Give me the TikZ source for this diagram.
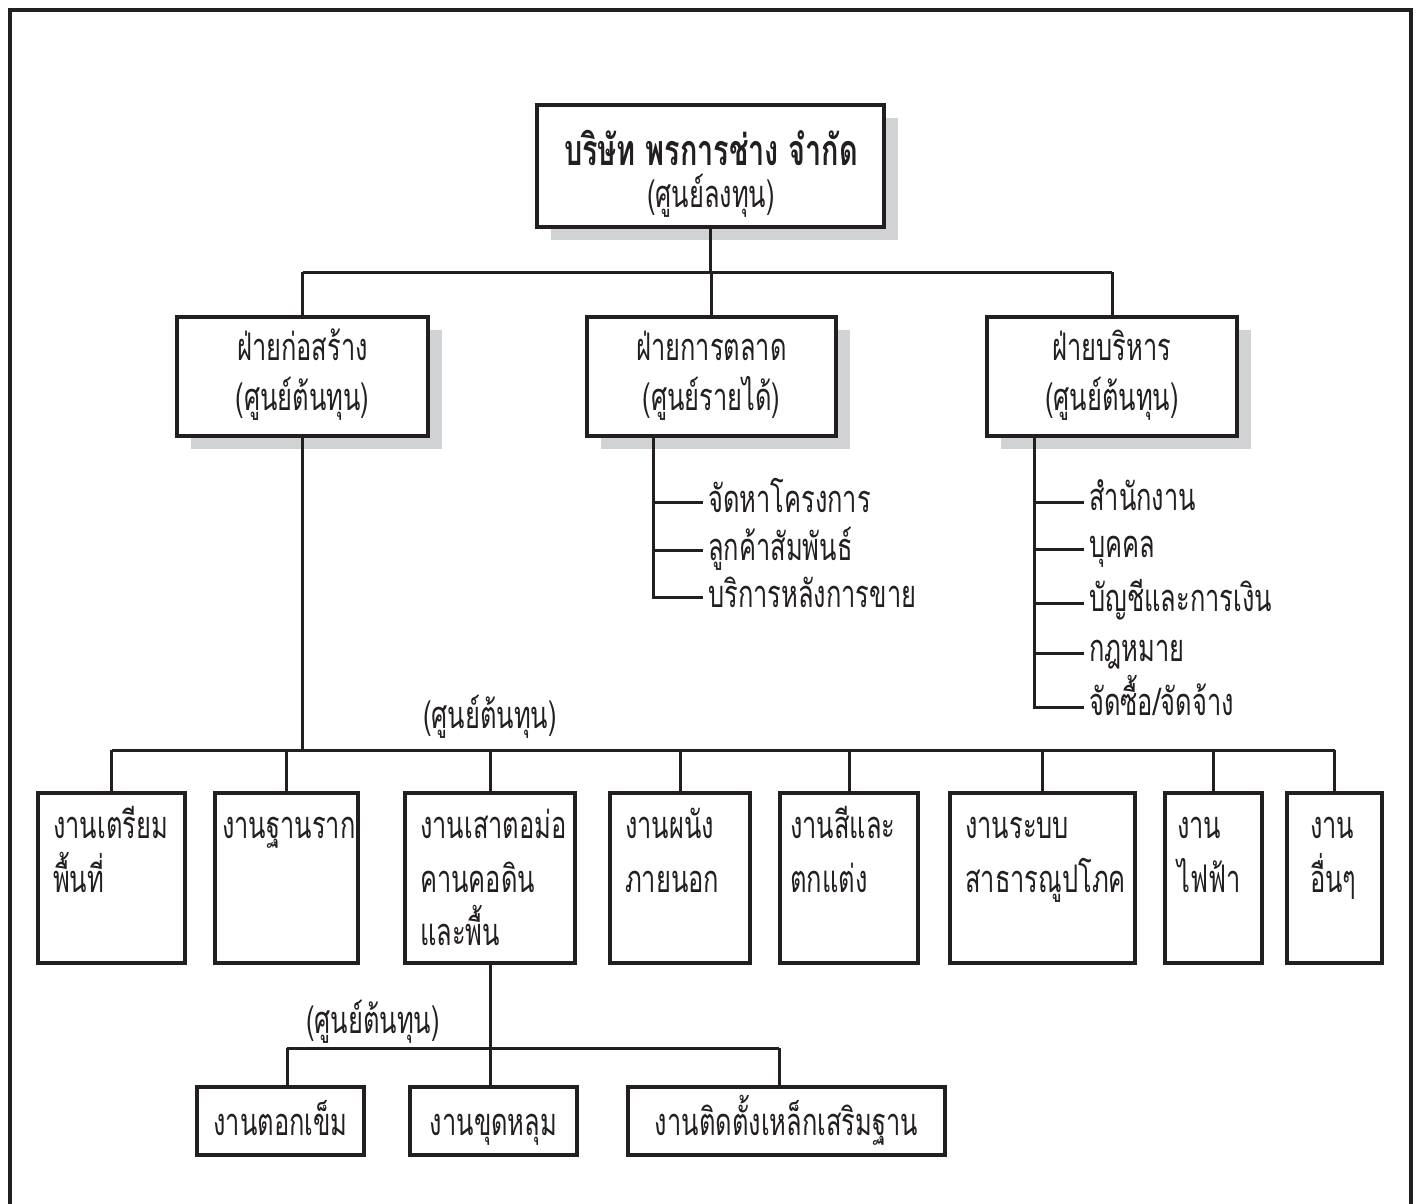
\documentclass[tikz,border=0pt]{standalone}
\usepackage{fontspec}
\newfontfamily\thai[Script=Thai,FakeStretch=0.67]{Loma}
\usetikzlibrary{shadows}
\definecolor{ink}{HTML}{231F20}
\definecolor{shade}{HTML}{D1D2D4}
\begin{document}
\begin{tikzpicture}[x=1pt,y=-1pt,
  txt/.style={font=\thai\fontsize{38}{52}\selectfont, text=ink, inner sep=0pt},
  ttl/.style={font=\thai\bfseries\fontsize{43}{52}\selectfont, text=ink, inner sep=0pt},
  item/.style={txt, inner xsep=5pt, anchor=base west},
  line/.style={txt, anchor=base west},
  box/.style={draw=ink, line width=3.5pt, fill=white, inner sep=0pt},
  sbox/.style={box, drop shadow={shadow xshift=14pt, shadow yshift=-13pt, fill=shade, opacity=1}},
  conn/.style={draw=ink, line width=3pt},
  frame/.style={draw=ink, line width=4pt}]
\useasboundingbox (0,0) rectangle (1417,1203);
\fill[white] (0,0) rectangle (1417,1203);
\draw[frame] (10,1215) -- (10,10) -- (1411,10) -- (1411,1215);

% top
\node[sbox, minimum width=347pt, minimum height=122pt] (top) at (710.5,166) {};
\node[ttl, anchor=base] (topa) at (711,165) {บริษัท พรการช่าง จำกัด};
\node[txt, anchor=base] (topb) at (711,207) {(ศูนย์ลงทุน)};

% level 2
\node[sbox, minimum width=251pt, minimum height=119pt] (con) at (302.5,376.5) {};
\node[txt, anchor=base] (cona) at (302.5,360) {ฝ่ายก่อสร้าง};
\node[txt, anchor=base] (conb) at (302.5,410) {(ศูนย์ต้นทุน)};
\node[sbox, minimum width=249pt, minimum height=119pt] (mkt) at (711.5,376.5) {};
\node[txt, anchor=base] (mkta) at (711.5,360) {ฝ่ายการตลาด};
\node[txt, anchor=base] (mktb) at (711.5,410) {(ศูนย์รายได้)};
\node[sbox, minimum width=250pt, minimum height=119pt] (adm) at (1112,376.5) {};
\node[txt, anchor=base] (adma) at (1112,360) {ฝ่ายบริหาร};
\node[txt, anchor=base] (admb) at (1112,410) {(ศูนย์ต้นทุน)};

\coordinate (j1) at (711,272);
\draw[conn] (top.south) -- (top.south |- j1);
\draw[conn] (con.north |- j1) -- (adm.north |- j1);
\draw[conn] (con.north |- j1) -- (con.north);
\draw[conn] (mkt.north |- j1) -- (mkt.north);
\draw[conn] (adm.north |- j1) -- (adm.north);

% marketing list
\node[item] (m1) at (703,512) {จัดหาโครงการ};
\node[item] (m2) at (703,560) {ลูกค้าสัมพันธ์};
\node[item] (m3) at (703,607) {บริการหลังการขาย};
\coordinate (mv1) at (653,502);
\coordinate (mv2) at (653,550);
\coordinate (mv3) at (653,597);
\draw[conn] (mkt.south -| mv1) -- (mv3) -- (mv3 -| m3.west);
\draw[conn] (mv1) -- (mv1 -| m1.west);
\draw[conn] (mv2) -- (mv2 -| m2.west);

% admin list
\node[item] (a1) at (1084,510) {สำนักงาน};
\node[item] (a2) at (1084,557) {บุคคล};
\node[item] (a3) at (1084,611) {บัญชีและการเงิน};
\node[item] (a4) at (1084,661) {กฎหมาย};
\node[item] (a5) at (1084,715) {จัดซื้อ/จัดจ้าง};
\coordinate (av1) at (1034,502);
\coordinate (av2) at (1034,549);
\coordinate (av3) at (1034,603);
\coordinate (av4) at (1034,653);
\coordinate (av5) at (1034,707);
\draw[conn] (adm.south -| av1) -- (av5) -- (av5 -| a5.west);
\draw[conn] (av1) -- (av1 -| a1.west);
\draw[conn] (av2) -- (av2 -| a2.west);
\draw[conn] (av3) -- (av3 -| a3.west);
\draw[conn] (av4) -- (av4 -| a4.west);

% level 3
\node[txt, anchor=base] (lab1) at (490,728) {(ศูนย์ต้นทุน)};
\foreach \n/\cx/\w in {b1/111.5/147, b2/286.5/143, b3/490/170, b4/680/140, b5/849/138, b6/1042.5/185, b7/1213.5/97, b8/1334.5/95}
  \node[box, minimum width=\w pt, minimum height=170pt] (\n) at (\cx,878) {};
\node[line] (b1a) at (53,838) {งานเตรียม};
\node[line] (b1b) at (53,892) {พื้นที่};
\node[line] (b2a) at (222,838) {งานฐานราก};
\node[line] (b3a) at (420,838) {งานเสาตอม่อ};
\node[line] (b3b) at (420,892) {คานคอดิน};
\node[line] (b3c) at (420,945) {และพื้น};
\node[line] (b4a) at (625,838) {งานผนัง};
\node[line] (b4b) at (625,892) {ภายนอก};
\node[line] (b5a) at (790,838) {งานสีและ};
\node[line] (b5b) at (790,892) {ตกแต่ง};
\node[line] (b6a) at (965,838) {งานระบบ};
\node[line] (b6b) at (965,892) {สาธารณูปโภค};
\node[line] (b7a) at (1177,838) {งาน};
\node[line] (b7b) at (1177,892) {ไฟฟ้า};
\node[line] (b8a) at (1310,838) {งาน};
\node[line] (b8b) at (1310,892) {อื่นๆ};

\coordinate (h2) at (303,750);
\draw[conn] (con.south) -- (con.south |- h2);
\draw[conn] (b1.north |- h2) -- (b8.north |- h2);
\foreach \n in {b1,b2,b3,b4,b5,b6,b7,b8}
  \draw[conn] (\n.north |- h2) -- (\n.north);

% level 4
\node[txt, anchor=base] (lab2) at (373,1033) {(ศูนย์ต้นทุน)};
\node[box, minimum width=167pt, minimum height=68pt] (c1) at (280.5,1121) {};
\node[box, minimum width=167pt, minimum height=68pt] (c2) at (493.5,1121) {};
\node[box, minimum width=317pt, minimum height=68pt] (c3) at (786.5,1121) {};
\node[txt, anchor=base] (c1t) at (280.5,1135) {งานตอกเข็ม};
\node[txt, anchor=base] (c2t) at (493.5,1135) {งานขุดหลุม};
\node[txt, anchor=base] (c3t) at (786.5,1135) {งานติดตั้งเหล็กเสริมฐาน};
\coordinate (k1) at (287,1048);
\coordinate (k2) at (490,1048);
\coordinate (k3) at (779,1048);
\draw[conn] (b3.south) -- (b3.south |- k2);
\draw[conn] (k1) -- (k3);
\draw[conn] (k1) -- (k1 |- c1.north);
\draw[conn] (k2) -- (k2 |- c2.north);
\draw[conn] (k3) -- (k3 |- c3.north);
\end{tikzpicture}
\end{document}
